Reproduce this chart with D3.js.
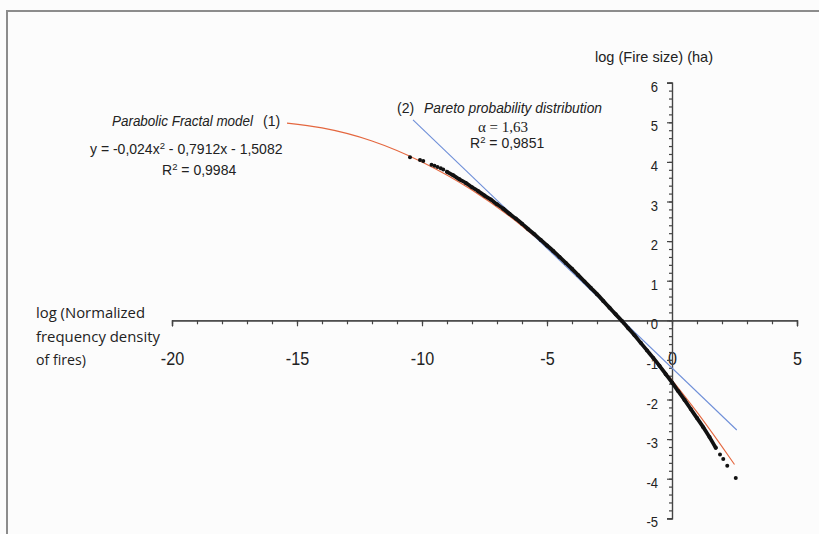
<!DOCTYPE html>
<html>
<head>
<meta charset="utf-8">
<script src="https://cdn.jsdelivr.net/npm/d3@7"></script>
<style>
  body { margin: 0; background: #fcfcfc; }
  svg { display: block; }
  .narrow { font-family: "Liberation Sans Narrow", "Arial Narrow", "Liberation Sans", sans-serif; }
</style>
</head>
<body>
<div id="main"></div>
<script>
// observed fire data (log normalized frequency density, log fire size)
var dataX = [-10.48, -10.08, -9.95, -9.62, -9.50, -9.38, -9.25, -9.15,
  -9.00, -8.75, -8.50, -8.25, -8.00, -7.75, -7.50, -7.25, -7.00, -6.75, -6.50, -6.25,
  -6.00, -5.75, -5.50, -5.25, -5.00, -4.75, -4.50, -4.25, -4.00, -3.75, -3.50, -3.25,
  -3.00, -2.75, -2.50, -2.25, -2.00, -1.75, -1.50, -1.25, -1.00, -0.75, -0.50, -0.25,
  0.00, 0.25, 0.50, 0.75, 1.00, 1.25, 1.50, 1.75,
  1.92, 2.05, 2.21, 2.55];
var dataY = [4.12, 4.05, 4.02, 3.93, 3.90, 3.87, 3.84, 3.81,
  3.75, 3.66, 3.56, 3.47, 3.36, 3.26, 3.15, 3.05, 2.93, 2.82, 2.69, 2.57,
  2.44, 2.30, 2.17, 2.03, 1.89, 1.75, 1.60, 1.45, 1.30, 1.14, 0.98, 0.82,
  0.66, 0.49, 0.32, 0.15, -0.02, -0.20, -0.38, -0.57, -0.76, -0.95, -1.15, -1.36,
  -1.57, -1.79, -2.01, -2.24, -2.47, -2.70, -2.95, -3.22,
  -3.39, -3.50, -3.67, -3.98];
// first and last index of the dense band
var denseFrom = 8, denseTo = 51;

// parabolic fractal model (1)
var modelX = [-15.4, -14, -12, -10, -8, -6, -4, -2, 0, 1, 2, 2.5];
var modelY = [4.98, 4.86, 4.53, 4.00, 3.29, 2.38, 1.27, -0.02, -1.51, -2.32, -3.19, -3.64];

// pareto line (2), end points
var paretoX = [-10.36, 2.59];
var paretoY = [5.06, -2.77];

var xMajor = [-20, -15, -10, -5, 0, 5];
var yMajor = [-5, -4, -3, -2, -1, 0, 1, 2, 3, 4, 5, 6];

var width = 819, height = 534;

var svg = d3.select("#main").append("svg")
    .attr("width", width)
    .attr("height", height);

svg.append("rect").attr("width", width).attr("height", height).attr("fill", "#fcfcfc");

// frame (top and left)
svg.append("path")
    .attr("d", "M7,534V11H819")
    .attr("fill", "none")
    .attr("stroke", "#8c8c8c")
    .attr("stroke-width", 2);

var x = d3.scaleLinear().domain([-20, 5]).range([172, 797]);
var y = d3.scaleLinear().domain([-5, 6]).range([518.3, 82.7]);

var axisColor = "#444";
var plain = function(d) { return String(d); };   // hyphen minus like the original

// x axis (crosses at y = 0)
svg.append("g")
    .attr("transform", "translate(0," + y(0) + ")")
    .call(d3.axisBottom(x).tickValues(d3.range(-20, 6, 1)).tickSize(4).tickSizeOuter(6).tickFormat(""));
var xAxis = svg.append("g")
    .attr("class", "narrow")
    .attr("transform", "translate(0," + y(0) + ")")
    .call(d3.axisBottom(x).tickValues(xMajor).tickSize(6).tickSizeOuter(6).tickFormat(plain));
xAxis.selectAll("text")
    .attr("y", 45).attr("dy", 0)
    .attr("transform", "scale(0.85,1)")
    .style("font-size", "19px").attr("fill", "#222");

// y axis (crosses at x = 0)
svg.append("g")
    .attr("transform", "translate(" + x(0) + ",0)")
    .call(d3.axisLeft(y).tickValues(d3.range(-25, 31, 1).map(function(d) { return d / 5; })).tickSize(3).tickSizeOuter(5).tickFormat(""));
var yAxis = svg.append("g")
    .attr("class", "narrow")
    .attr("transform", "translate(" + x(0) + ",0)")
    .call(d3.axisLeft(y).tickValues(yMajor).tickSize(5).tickSizeOuter(5).tickFormat(plain));
yAxis.selectAll("text")
    .attr("x", -14 / 0.9).attr("y", 4)
    .attr("transform", "scale(0.9,1)")
    .style("font-size", "14.5px").attr("fill", "#222");

svg.selectAll(".domain, .tick line").attr("stroke", axisColor).attr("stroke-width", 1.2);
svg.selectAll("g").attr("font-family", null);

// model lines
var line = d3.line()
    .x(function(d) { return x(d[0]); })
    .y(function(d) { return y(d[1]); })
    .curve(d3.curveMonotoneX);

svg.append("path")
    .datum(d3.zip(modelX, modelY))
    .attr("d", line)
    .attr("fill", "none")
    .attr("stroke", "#e4673f")
    .attr("stroke-width", 1.1);

svg.append("path")
    .datum(d3.zip(paretoX, paretoY))
    .attr("d", d3.line().x(function(d) { return x(d[0]); }).y(function(d) { return y(d[1]); }))
    .attr("fill", "none")
    .attr("stroke", "#6f8fd8")
    .attr("stroke-width", 1.1);

// observed points: dense band + dots
var pts = d3.zip(dataX, dataY);
svg.append("path")
    .datum(pts.slice(denseFrom, denseTo + 1))
    .attr("d", d3.line().x(function(d) { return x(d[0]); }).y(function(d) { return y(d[1]); }).curve(d3.curveCatmullRom))
    .attr("fill", "none")
    .attr("stroke", "#111")
    .attr("stroke-width", 3.8)
    .attr("stroke-linecap", "round");

svg.append("g").selectAll("circle")
    .data(pts)
    .enter().append("circle")
    .attr("cx", function(d) { return x(d[0]); })
    .attr("cy", function(d) { return y(d[1]); })
    .attr("r", 2)
    .attr("fill", "#111");

// axis titles
svg.append("text")
    .attr("class", "narrow")
    .attr("x", 595).attr("y", 62)
    .attr("textLength", 118).attr("lengthAdjust", "spacingAndGlyphs")
    .style("font-size", "15px").attr("fill", "#222")
    .text("log (Fire size) (ha)");

var xt = svg.append("g")
    .style("font-family", "'Open Sans', 'Noto Sans', sans-serif")
    .style("font-size", "15px").attr("fill", "#222");
xt.append("text").attr("x", 36).attr("y", 318)
    .attr("textLength", 109).attr("lengthAdjust", "spacingAndGlyphs").text("log (Normalized");
xt.append("text").attr("x", 36).attr("y", 341.5)
    .attr("textLength", 124).attr("lengthAdjust", "spacingAndGlyphs").text("frequency density");
xt.append("text").attr("x", 36).attr("y", 365)
    .attr("textLength", 50).attr("lengthAdjust", "spacingAndGlyphs").text("of fires)");

// annotations
var ann = svg.append("g")
    .style("font-family", "'Liberation Sans', Arial, sans-serif")
    .style("font-size", "14px")
    .attr("fill", "#222");

ann.append("text").attr("x", 112).attr("y", 126)
    .style("font-style", "italic")
    .attr("textLength", 141).attr("lengthAdjust", "spacingAndGlyphs")
    .text("Parabolic Fractal model");
ann.append("text").attr("x", 263).attr("y", 126).text("(1)");

var eq = ann.append("text").attr("x", 90).attr("y", 154);
eq.append("tspan").text("y = -0,024x");
eq.append("tspan").attr("dy", -5).style("font-size", "9.5px").text("2");
eq.append("tspan").attr("dy", 5).text(" - 0,7912x - 1,5082");

var r1 = ann.append("text").attr("x", 162).attr("y", 175);
r1.append("tspan").text("R");
r1.append("tspan").attr("dy", -5).style("font-size", "9.5px").text("2");
r1.append("tspan").attr("dy", 5).text(" = 0,9984");

ann.append("text").attr("x", 397).attr("y", 113).text("(2)");
ann.append("text").attr("x", 424).attr("y", 113)
    .style("font-style", "italic")
    .attr("textLength", 178).attr("lengthAdjust", "spacingAndGlyphs")
    .text("Pareto probability distribution");

ann.append("text").attr("x", 503).attr("y", 132)
    .attr("text-anchor", "middle")
    .style("font-family", "'Liberation Serif', 'Times New Roman', serif")
    .style("font-size", "15px")
    .text("\u03b1 = 1,63");

var r2 = ann.append("text").attr("x", 470).attr("y", 148);
r2.append("tspan").text("R");
r2.append("tspan").attr("dy", -5).style("font-size", "9.5px").text("2");
r2.append("tspan").attr("dy", 5).text(" = 0,9851");
</script>
</body>
</html>
